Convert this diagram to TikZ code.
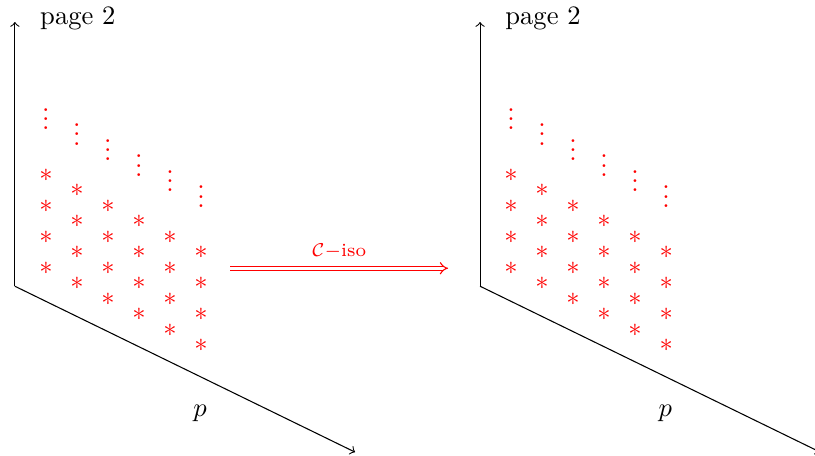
\documentclass[tikz,border=0pt]{standalone}
\usetikzlibrary{arrows}
\newcommand\coldots{\vbox{\baselineskip3.4pt\lineskiplimit0pt\hbox{.}\hbox{.}\hbox{.}}}

\begin{document}
\begin{tikzpicture}[x=0.41cm, y=0.41cm, axis/.style={->}, ast/.style={red, inner sep=0pt}, vd/.style={red, inner sep=0pt}]
\useasboundingbox (-0.48,-5.45) rectangle (25.8,9.23);
\foreach \k/\sx in {L/0,R/15} {
\begin{scope}[shift={(\sx,0)}]
\coordinate (o\k) at (0,0);
\coordinate (top\k) at (0,8.52);
\coordinate (end\k) at (10.97,-5.35);
\draw[axis] (o\k) -- (top\k);
\draw[axis] (o\k) -- (end\k);
\node[anchor=west, inner sep=0pt] (pg\k) at (0.8,8.65) {page 2};
\node (p\k) at (5.97,-4.1) {$p$};
\foreach \i in {0,...,5} {
  \node[vd] (d\k\i) at (\i+1,5.39-0.5*\i) {\coldots};
  \foreach \j in {0,...,3}
    \node[ast] (s\k\i\j) at (\i+1,0.58+\j-0.5*\i) {$*$};
}
\end{scope}
}
\coordinate (isoA) at (6.94,0.58);
\coordinate (isoB) at (13.97,0.58);
\draw[red, double, double distance=1.2pt, -implies] (isoA) -- node[above, font=\scriptsize] (iso) {$\mathcal{C}-$iso} (isoB);
\end{tikzpicture}
\end{document}
